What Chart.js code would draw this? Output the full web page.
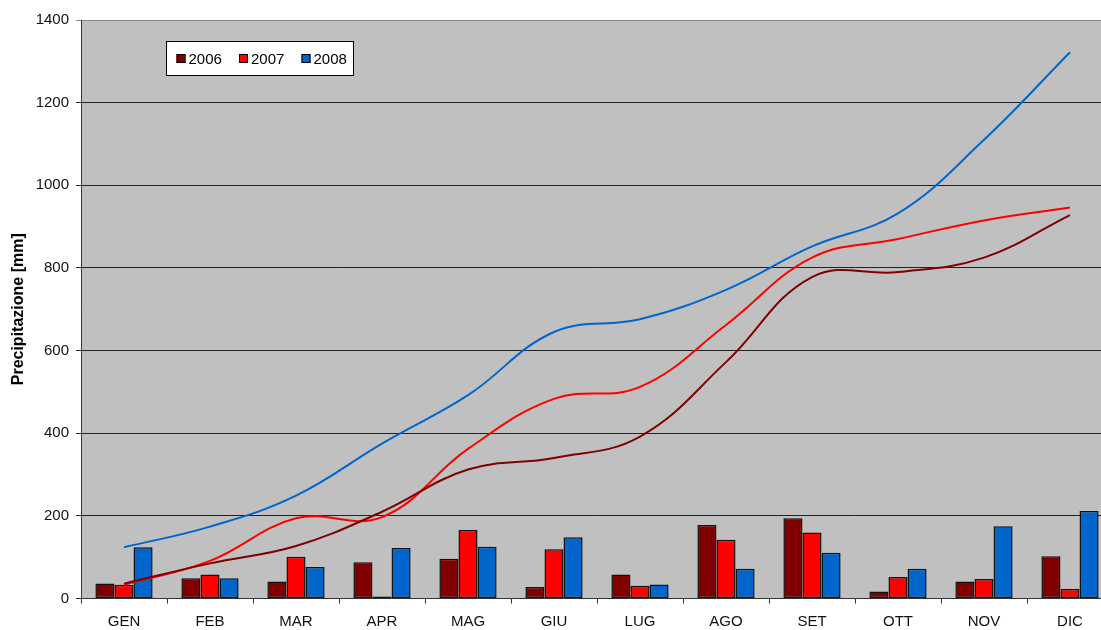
<!DOCTYPE html>
<html>
<head>
<meta charset="utf-8">
<script src="https://cdn.jsdelivr.net/npm/chart.js@4.4.0/dist/chart.umd.min.js"></script>
<style>
    html, body { margin: 0; padding: 0; background: #fff; overflow: hidden; }
    #rainChart { display: block; }
</style>
</head>
<body>
<canvas id="rainChart" width="1113" height="630"></canvas>
<script>
const months = ['GEN', 'FEB', 'MAR', 'APR', 'MAG', 'GIU', 'LUG', 'AGO', 'SET', 'OTT', 'NOV', 'DIC'];
const years = ['2006', '2007', '2008'];

// pioggia mensile [mm]
const rain2006 = [36, 49, 41, 88, 96, 28, 58, 178, 194, 17, 41, 102];
const rain2007 = [33, 58, 101, 5, 166, 119, 31, 142, 160, 52, 47, 23];
const rain2008 = [124, 49, 76, 122, 125, 148, 34, 72, 111, 72, 175, 212];

// pioggia cumulata [mm]
const total2006 = [36, 85, 127, 210, 312, 340, 392, 572, 778, 790, 825, 928];
const total2007 = [33, 91, 194, 197, 362, 483, 512, 662, 825, 870, 915, 946];
const total2008 = [124, 174, 249, 375, 492, 645, 676, 747, 852, 932, 1110, 1322];

const yTicks = [0, 200, 400, 600, 800, 1000, 1200, 1400];

const colors = ['#800000', '#ff0000', '#0066cc'];

Chart.defaults.font.family = '"Liberation Sans", Arial, sans-serif';
Chart.defaults.font.size = 15;
Chart.defaults.color = '#111';

// grey plot area
const plotBackground = {
    id: 'plotBackground',
    beforeDraw(chart) {
        const { ctx, chartArea: a } = chart;
        ctx.save();
        ctx.fillStyle = '#c0c0c0';
        ctx.fillRect(a.left, a.top, a.right - a.left, a.bottom - a.top);
        ctx.restore();
    }
};

// legend box drawn inside the plot, bars only
const boxLegend = {
    id: 'boxLegend',
    afterDraw(chart) {
        const { ctx, chartArea: a } = chart;
        const x = a.left + 85.5, y = a.top + 21.5, w = 187, h = 34;
        ctx.save();
        ctx.fillStyle = '#fff';
        ctx.fillRect(x, y, w, h);
        ctx.strokeStyle = '#000';
        ctx.lineWidth = 1;
        ctx.strokeRect(x, y, w, h);
        ctx.font = '15px "Liberation Sans", Arial, sans-serif';
        ctx.textBaseline = 'middle';
        const bars = chart.data.datasets.filter(d => d.type === 'bar');
        bars.forEach((ds, i) => {
            const sx = x + 10 + i * 62.5;
            const sy = y + 12.5;
            ctx.fillStyle = ds.backgroundColor;
            ctx.fillRect(sx, sy, 9, 9);
            ctx.strokeStyle = '#000';
            ctx.strokeRect(sx + 0.5, sy + 0.5, 8, 8);
            ctx.fillStyle = '#000';
            ctx.fillText(ds.label, sx + 12, y + h / 2 + 1);
        });
        ctx.restore();
    }
};

const rainSets = [rain2006, rain2007, rain2008];
const totalSets = [total2006, total2007, total2008];

const datasets = [];
totalSets.forEach((data, i) => {
    datasets.push({
        type: 'line',
        label: years[i] + ' cumulata',
        data: data,
        borderColor: colors[i],
        borderWidth: 2,
        pointRadius: 0,
        tension: 0.4,
        fill: false,
        order: 1
    });
});
rainSets.forEach((data, i) => {
    datasets.push({
        type: 'bar',
        label: years[i],
        data: data,
        backgroundColor: colors[i],
        borderColor: '#111',
        borderWidth: 1.5,
        borderSkipped: false,
        categoryPercentage: 0.665,
        barPercentage: 1.0,
        order: 2
    });
});

new Chart(document.getElementById('rainChart'), {
    data: { labels: months, datasets: datasets },
    options: {
        responsive: false,
        animation: false,
        devicePixelRatio: 1,
        layout: { padding: { top: 20, right: 0, left: 0, bottom: 0 } },
        plugins: {
            legend: { display: false },
            tooltip: { enabled: false }
        },
        scales: {
            x: {
                offset: true,
                grid: {
                    offset: true,
                    drawOnChartArea: false,
                    drawTicks: true,
                    tickLength: 5,
                    color: '#333'
                },
                border: { color: '#333', width: 1 },
                ticks: { padding: 9, font: { size: 15 } },
                afterFit(scale) { scale.height = 31.5; }
            },
            y: {
                min: 0,
                max: 1400,
                afterBuildTicks(scale) {
                    scale.ticks = yTicks.map(v => ({ value: v }));
                },
                grid: {
                    tickLength: 5,
                    color: ctx => (ctx.tick && ctx.tick.value === 1400) ? '#888' : '#222',
                    lineWidth: 1
                },
                border: { color: '#333', width: 1 },
                ticks: {
                    padding: 7,
                    font: { size: 15 },
                    callback: v => String(v)
                },
                title: {
                    display: true,
                    text: 'Precipitazione [mm]',
                    font: { size: 16, weight: 'bold' },
                    color: '#000',
                    padding: { top: 9, bottom: 4 }
                },
                afterFit(scale) { scale.width = 81; }
            }
        }
    },
    plugins: [plotBackground, boxLegend]
});
</script>
</body>
</html>
